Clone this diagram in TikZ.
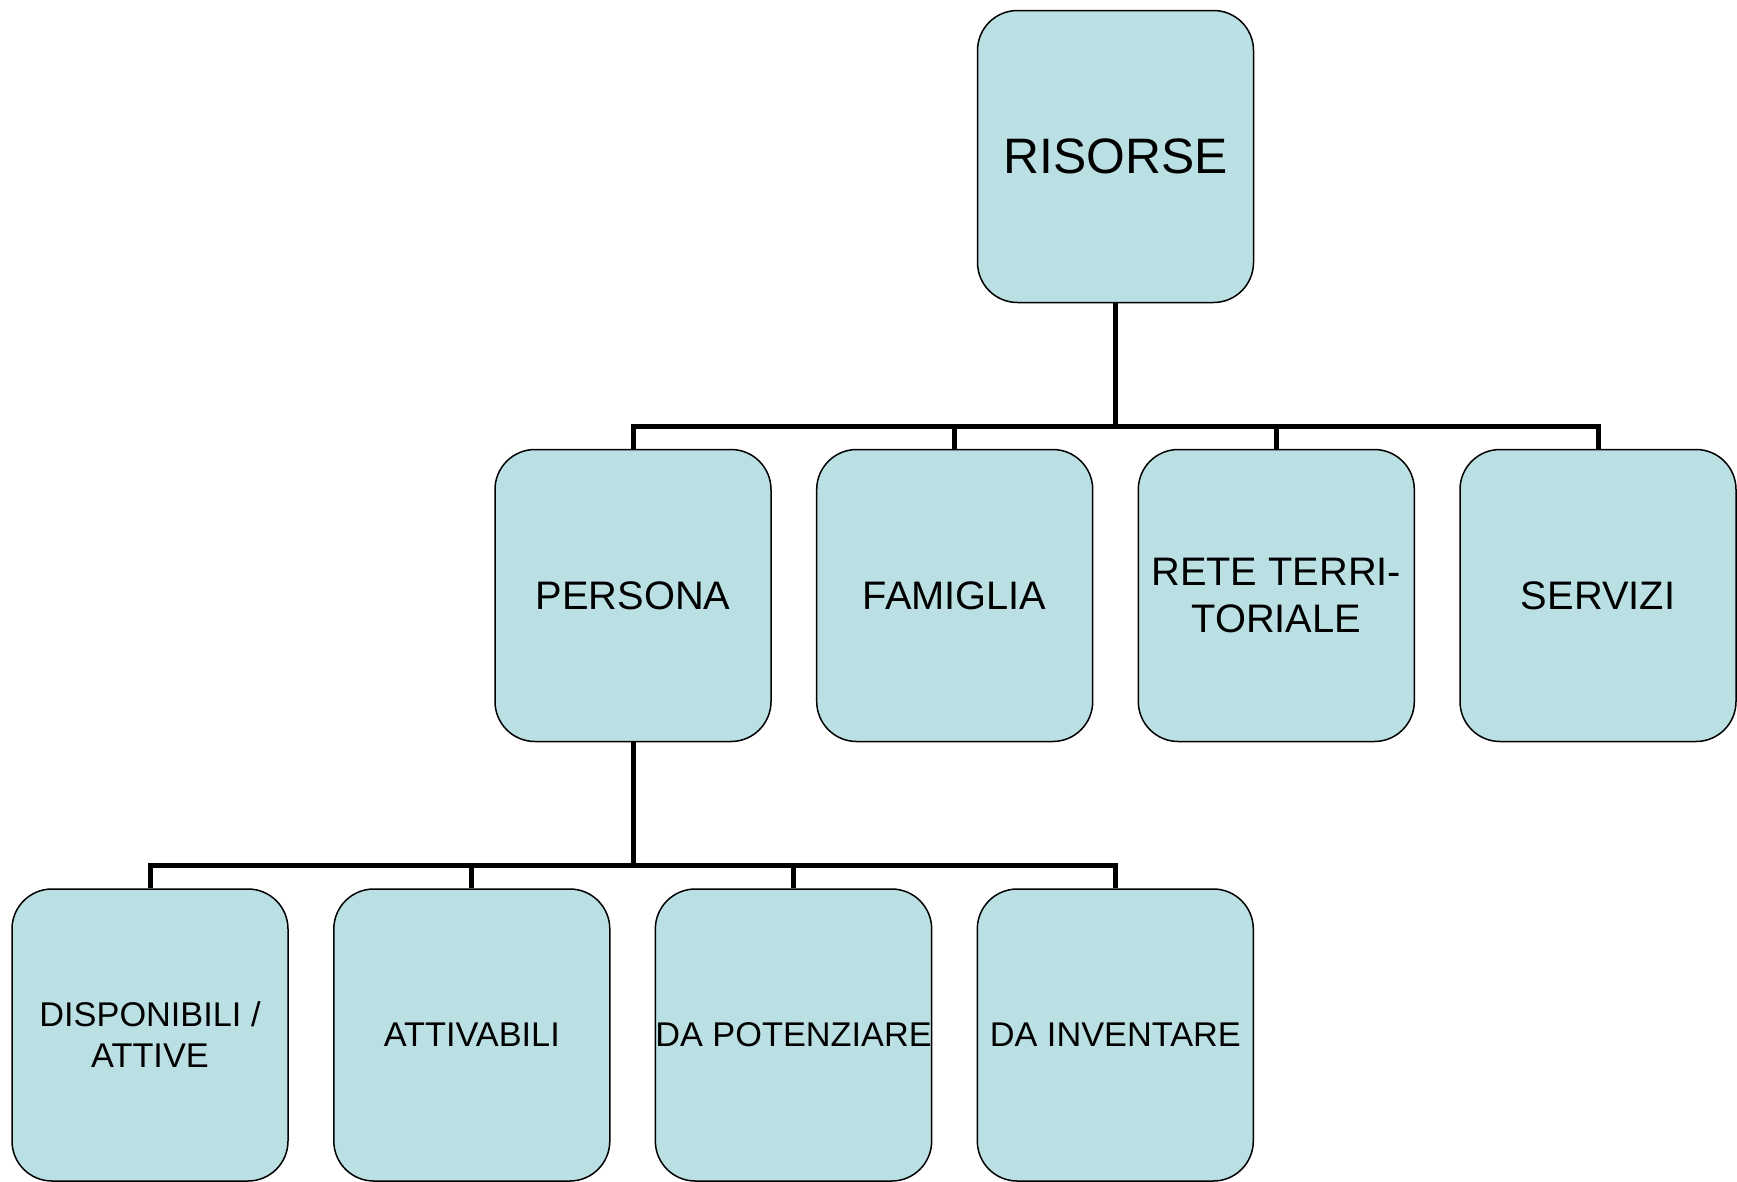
\documentclass[tikz,border=0pt]{standalone}
\usepackage{fontspec}
\setmainfont{Liberation Sans}
\definecolor{boxfill}{RGB}{186,224,227}

\begin{document}
\begin{tikzpicture}[x=1pt,y=-1pt,
                    box/.style={draw=black,line width=1.5pt,fill=boxfill,rounded corners=40pt,
                                minimum width=276pt,minimum height=292pt,inner sep=0pt,align=center},
                    topbox/.style={box,font=\fontsize{49.8}{58}\selectfont},
                    midbox/.style={box,font=\fontsize{39.8}{46.5}\selectfont},
                    lowbox/.style={box,font=\fontsize{34.3}{41}\selectfont},
                    link/.style={line width=5pt}]
                    \fill[white] (0,0) rectangle (1737,1181);
                    \useasboundingbox (0,0) rectangle (1737,1181);

                    \node[topbox] (risorse) at (1115.5,156.5) {RISORSE};

                    \node[midbox] (persona)  at (633,595.5)    {PERSONA};
                    \node[midbox] (famiglia) at (954.7,595.5)  {FAMIGLIA};
                    \node[midbox] (rete)     at (1276.3,595.5) {RETE TERRI-\\TORIALE};
                    \node[midbox] (servizi)  at (1598,595.5)   {SERVIZI};

                    \node[lowbox] (disponibili) at (150,1035)    {DISPONIBILI /\\ATTIVE};
                    \node[lowbox] (attivabili)  at (471.8,1035)  {ATTIVABILI};
                    \node[lowbox] (potenziare)  at (793.5,1035)  {DA POTENZIARE};
                    \node[lowbox] (inventare)   at (1115.3,1035) {DA INVENTARE};

                    \coordinate (fork1) at (1115.5,426);
                    \coordinate (fork2) at (633,865);

                    \draw[link] (risorse.south) -- (fork1);
                    \foreach \n in {persona,famiglia,rete,servizi}
                        \draw[link] (fork1) -| (\n.north);

                    \draw[link] (persona.south) -- (fork2);
                    \foreach \n in {disponibili,attivabili,potenziare,inventare}
                        \draw[link] (fork2) -| (\n.north);
                \end{tikzpicture}
\end{document}
